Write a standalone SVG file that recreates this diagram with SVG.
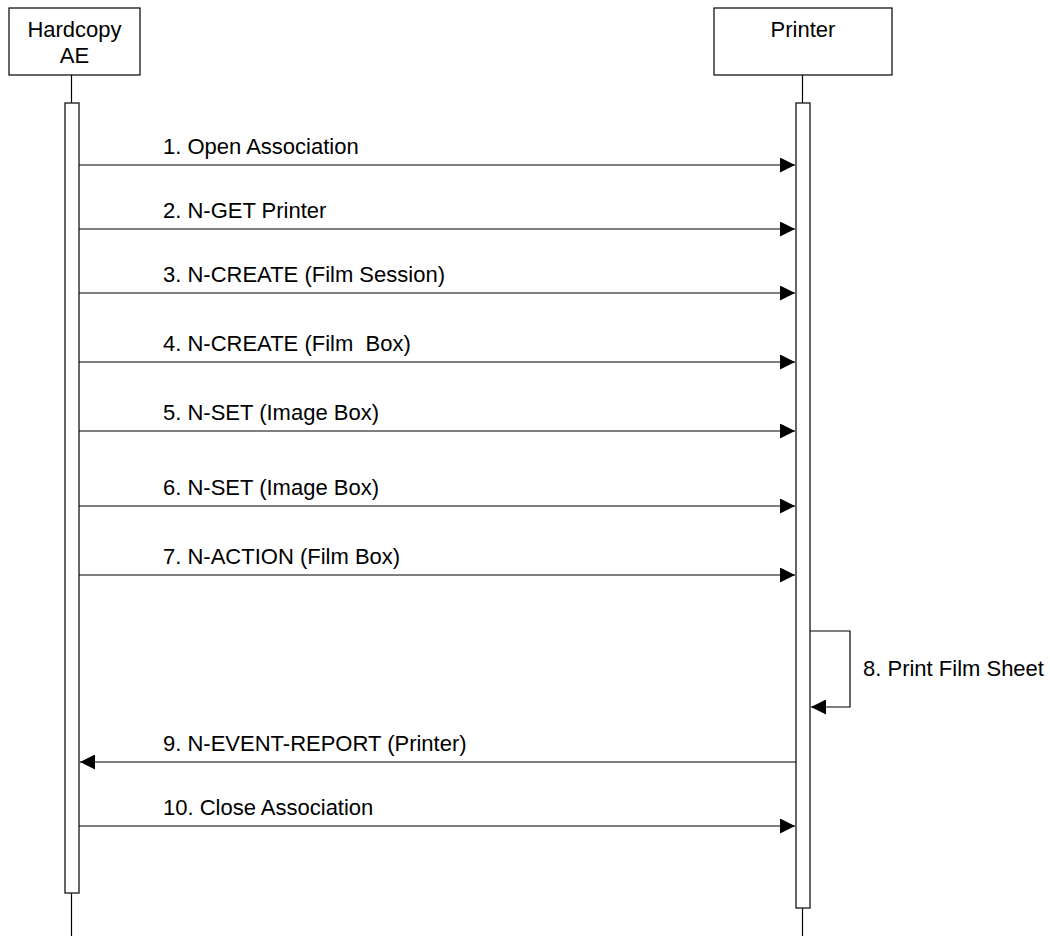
<svg xmlns="http://www.w3.org/2000/svg" width="1050" height="936" viewBox="0 0 1050 936">
<style>
text{font-family:"Liberation Sans",Arial,sans-serif;font-size:22px;fill:#000}
.box{fill:#fff;stroke:#000;stroke-width:1.2}
.life{stroke:#000;stroke-width:1.2;fill:none}
.act{fill:#fff;stroke:#333;stroke-width:1.5}
.msg{stroke:#000;stroke-width:1.2;fill:none}
</style>
<defs>
<marker id="ah" markerWidth="15" markerHeight="15" viewBox="0 0 15 15" refX="15" refY="7.5" orient="auto" markerUnits="userSpaceOnUse">
<path d="M0,0 L15,7.5 L0,15 Z" fill="#000"/>
</marker>
</defs>
<g id="hardcopy-ae">
<line class="life" x1="71.5" y1="75" x2="71.5" y2="936"/>
<rect class="box" x="9" y="8" width="131" height="67"/>
<text x="74.5" y="37" text-anchor="middle">Hardcopy</text>
<text x="74.5" y="63" text-anchor="middle">AE</text>
<rect class="act" x="65" y="103" width="14" height="790"/>
</g>
<g id="printer">
<line class="life" x1="802.5" y1="75" x2="802.5" y2="936"/>
<rect class="box" x="714" y="8" width="178" height="67"/>
<text x="803" y="37" text-anchor="middle">Printer</text>
<rect class="act" x="796" y="103" width="14" height="805"/>
</g>
<g id="connectors">
<line class="msg" x1="79" y1="165" x2="795" y2="165" marker-end="url(#ah)"/>
<text x="163" y="154">1. Open Association</text>
<line class="msg" x1="79" y1="229" x2="795" y2="229" marker-end="url(#ah)"/>
<text x="163" y="218">2. N-GET Printer</text>
<line class="msg" x1="79" y1="293" x2="795" y2="293" marker-end="url(#ah)"/>
<text x="163" y="282">3. N-CREATE (Film Session)</text>
<line class="msg" x1="79" y1="362" x2="795" y2="362" marker-end="url(#ah)"/>
<text x="163" y="351" xml:space="preserve">4. N-CREATE (Film  Box)</text>
<line class="msg" x1="79" y1="431" x2="795" y2="431" marker-end="url(#ah)"/>
<text x="163" y="420">5. N-SET (Image Box)</text>
<line class="msg" x1="79" y1="506" x2="795" y2="506" marker-end="url(#ah)"/>
<text x="163" y="495">6. N-SET (Image Box)</text>
<line class="msg" x1="79" y1="575" x2="795" y2="575" marker-end="url(#ah)"/>
<text x="163" y="564">7. N-ACTION (Film Box)</text>
<polyline class="msg" points="810,631 850,631 850,707 811,707" marker-end="url(#ah)"/>
<text x="863" y="676">8. Print Film Sheet</text>
<line class="msg" x1="796" y1="762" x2="80" y2="762" marker-end="url(#ah)"/>
<text x="163" y="751">9. N-EVENT-REPORT (Printer)</text>
<line class="msg" x1="79" y1="826" x2="795" y2="826" marker-end="url(#ah)"/>
<text x="163" y="815">10. Close Association</text>
</g>
</svg>
